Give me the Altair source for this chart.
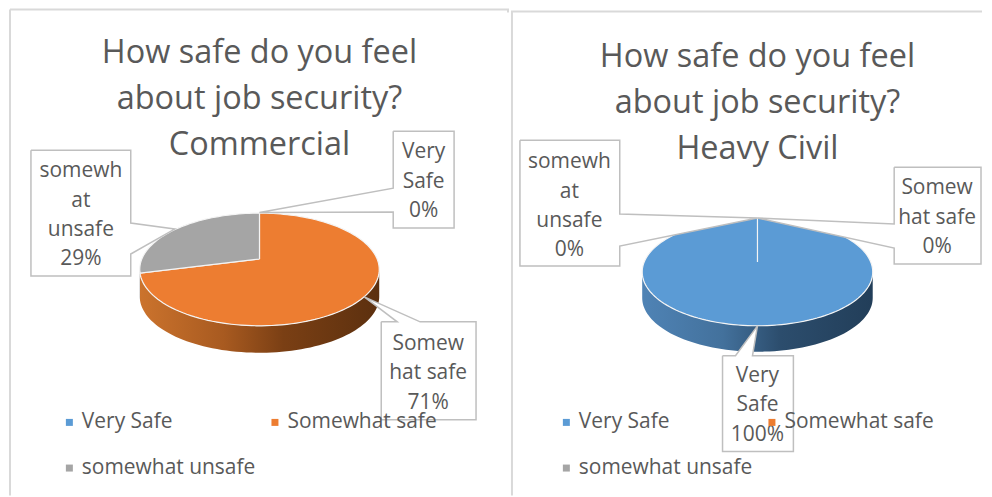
import math
import altair as alt
import pandas as pd

CATEGORIES = ["Very Safe", "Somewhat safe", "somewhat unsafe"]
COLORS = ["#5b9bd5", "#ed7d31", "#a5a5a5"]
COMMERCIAL = [0, 71, 29]
HEAVY_CIVIL = [100, 0, 0]
TITLE_COMMERCIAL = "How safe do you feel\nabout job security?\nCommercial"
TITLE_CIVIL = "How safe do you feel\nabout job security?\nHeavy Civil"
WRAPPED = {"Very Safe": "Very\nSafe", "Somewhat safe": "Somew\nhat safe", "somewhat unsafe": "somewh\nat\nunsafe"}

FONT = "Open Sans"
TEXT = "#595959"
WALLS = {
    "Very Safe": ["#4f83b5", "#43719c", "#2c4d6d", "#223e59"],
    "Somewhat safe": ["#cb732d", "#a85a20", "#7a3f14", "#5c300f"],
    "somewhat unsafe": ["#8f8f8f", "#8a8a8a", "#707070", "#606060"],
}


def rim(p, th):
    u, v = math.sin(th), math.cos(th)
    s = 1 / (1 + p["k"] * v)
    return p["cx"] + p["A"] * u * s, p["cy"] - p["B"] * v * s


def spans(values):
    out, acc = [], 0.0
    for c, v in zip(CATEGORIES, values):
        if v > 0:
            out.append((c, acc / sum(values) * 2 * math.pi, (acc + v) / sum(values) * 2 * math.pi))
        acc += v
    return out


def panel(values, title, p, callouts, legend_xy, col_pad):
    xs = alt.Scale(domain=[p["x0"], p["x0"] + p["w"]], range=[0, p["w"]], nice=False, zero=False)
    ys = alt.Scale(domain=[p["y0"], p["y0"] + p["h"]], range=[0, p["h"]], nice=False, zero=False)
    X = alt.X("x:Q", scale=xs, axis=None)
    Y = alt.Y("y:Q", scale=ys, axis=None)

    layers = []

    # panel frame
    frame = pd.DataFrame(p["frame"], columns=["x", "y", "x2", "y2"])
    layers.append(alt.Chart(frame).mark_rule(color="#d9d9d9", strokeWidth=2, clip=False).encode(X, Y, x2="x2:Q", y2="y2:Q"))

    # side wall: the part of each slice's rim that faces the viewer
    lim = math.acos(-p["k"])
    for cat, a, b in spans(values):
        lo, hi = max(a, lim), min(b, 2 * math.pi - lim)
        if hi <= lo:
            continue
        n = max(4, int((hi - lo) / math.radians(2)))
        rows = []
        for i in range(n + 1):
            x, y = rim(p, lo + (hi - lo) * i / n)
            rows.append({"x": x, "y": y, "y2": y + p["depth"]})
        stops = WALLS[cat]
        grad = alt.LinearGradient(
            gradient="linear", x1=0, x2=1, y1=0, y2=0,
            stops=[alt.GradientStop(color=c, offset=o) for c, o in zip(stops, [0, 0.35, 0.6, 1])],
        )
        layers.append(alt.Chart(pd.DataFrame(rows)).mark_area(color=grad, clip=False).encode(X, Y, y2="y2:Q"))

    # top face
    rows = []
    for cat, a, b in spans(values):
        n = max(4, int((b - a) / math.radians(2)))
        pts = [(p["cx"], p["cy"])] + [rim(p, a + (b - a) * i / n) for i in range(n + 1)] + [(p["cx"], p["cy"])]
        rows += [{"x": x, "y": y, "i": i, "category": cat} for i, (x, y) in enumerate(pts)]
    layers.append(
        alt.Chart(pd.DataFrame(rows)).mark_line(stroke="#f4f4f4", strokeWidth=1.2, interpolate="linear", clip=False).encode(
            X, Y, order="i:Q",
            fill=alt.Fill(
                "category:N",
                scale=alt.Scale(domain=CATEGORIES, range=COLORS),
                legend=alt.Legend(
                    title=None, orient="none", direction="horizontal", legendX=legend_xy[0], legendY=legend_xy[1], columns=2,
                    symbolType="square", symbolSize=49, symbolStrokeWidth=0, labelFont=FONT, labelFontSize=21,
                    labelColor=TEXT, labelOffset=2, labelLimit=300, rowPadding=24, columnPadding=col_pad, zindex=1,
                ),
            ),
        )
    )

    # callouts: box and pointer share one outline
    rows, labels = [], []
    for k, c in enumerate(callouts):
        rows += [{"x": x, "y": y, "i": i, "c": k} for i, (x, y) in enumerate(c["outline"] + c["outline"][:1])]
        v = values[CATEGORIES.index(c["cat"])]
        labels.append({"x": c["tx"], "y": c["ty"], "t": f"{WRAPPED[c['cat']]}\n{v}%"})
    layers.append(
        alt.Chart(pd.DataFrame(rows)).mark_line(fill="white", stroke="#bfbfbf", strokeWidth=1.5, clip=False).encode(
            X, Y, order="i:Q", detail="c:N"
        )
    )
    layers.append(
        alt.Chart(pd.DataFrame(labels)).mark_text(
            font=FONT, fontSize=21, color=TEXT, lineBreak="\n", lineHeight=29.5, align="center", baseline="middle", clip=False
        ).encode(X, Y, text="t:N")
    )
    layers.append(
        alt.Chart(pd.DataFrame([{"x": p["cx"], "y": p["ty"], "t": title}])).mark_text(
            font=FONT, fontSize=32.5, fontWeight=400, color=TEXT, lineBreak="\n", lineHeight=46, align="center", baseline="middle", clip=False
        ).encode(X, Y, text="t:N")
    )
    return alt.layer(*layers).properties(width=p["w"], height=p["h"])


LEFT = dict(x0=8, y0=8, w=502, h=489, cx=260, cy=259, A=117.9, B=54.5, k=0.186, depth=27, ty=53,
            frame=[(10, 9, 510, 9), (10, 9, 10, 496), (509, 9, 509, 12)])
RIGHT = dict(x0=510, y0=8, w=472, h=489, cx=757, cy=262, A=113.5, B=52.1, k=0.185, depth=26, ty=57,
             frame=[(510, 11, 982, 11), (511, 11, 511, 496)])

LEFT_CALLOUTS = [
    dict(cat="Very Safe", tx=424.5, ty=152, outline=[(394, 131), (455, 131), (455, 228), (394, 228), (394, 212), (260, 212.5), (394, 188)]),
    dict(cat="somewhat unsafe", tx=81, ty=171, outline=[(31, 150), (131, 150), (131, 223), (175, 229), (131, 254), (131, 276), (31, 276)]),
    dict(cat="Somewhat safe", tx=429, ty=344, outline=[(382, 322), (398, 322), (365, 297), (421, 322), (477, 322), (477, 420), (382, 420)]),
]
RIGHT_CALLOUTS = [
    dict(cat="somewhat unsafe", tx=568.5, ty=162, outline=[(519, 140), (619, 140), (619, 214), (757, 218), (619, 246), (619, 266), (519, 266)]),
    dict(cat="Somewhat safe", tx=937, ty=188, outline=[(894, 167), (981, 167), (981, 264), (894, 264), (894, 248), (757, 218), (894, 224)]),
    dict(cat="Very Safe", tx=757, ty=376, outline=[(722, 356), (735, 356), (757, 326), (752, 356), (793, 356), (793, 452), (722, 452)]),
]

chart = (
    alt.hconcat(
        panel(COMMERCIAL, TITLE_COMMERCIAL, LEFT, LEFT_CALLOUTS, (51, 404), 9),
        panel(HEAVY_CIVIL, TITLE_CIVIL, RIGHT, RIGHT_CALLOUTS, (45, 404), 9),
        spacing=0,
    )
    .resolve_scale(fill="independent")
    .resolve_legend(fill="independent")
    .properties(padding=0, background="white")
    .configure_view(stroke=None)
)
chart.save("out.html", embed_options={"renderer": "svg", "actions": False})
